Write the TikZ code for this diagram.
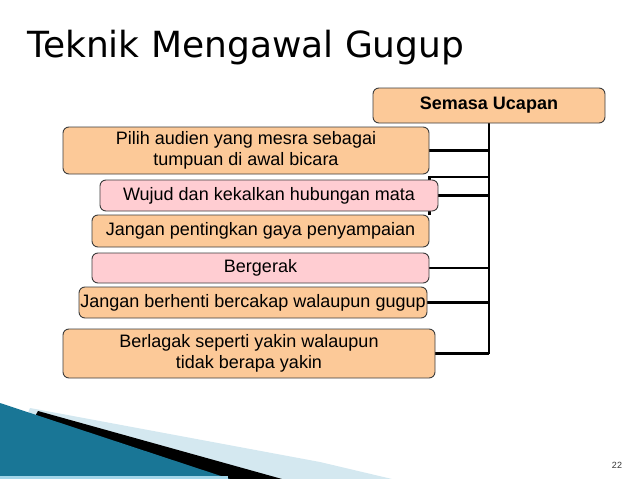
\documentclass[tikz,border=0pt]{standalone}
\usepackage{fontspec}
\setmainfont{Liberation Sans}
\newfontfamily\titlefont{DejaVu Sans}
\usetikzlibrary{calc, positioning}
\pgfdeclarelayer{bg}
\pgfsetlayers{bg,main}

\definecolor{peach}{RGB}{252,201,152}
\definecolor{rosy}{RGB}{255,205,210}
\definecolor{edgegray}{RGB}{60,60,60}
\definecolor{tealdark}{RGB}{25,118,150}
\definecolor{teallight}{RGB}{90,188,222}
\definecolor{palecyan}{RGB}{212,232,240}

\tikzset{
	kotak/.style={rectangle, rounded corners=6pt, draw=edgegray, line width=0.9pt, inner sep=0pt, align=center, font=\fontsize{18}{21}\selectfont},
	oren/.style={kotak, fill=peach},
	merah/.style={kotak, fill=rosy},
	sambung/.style={line width=2.2pt, black},
}

\begin{document}
\begin{tikzpicture}[x=1pt, y=-1pt]
	\useasboundingbox (0,0) rectangle (638,479);

		% title %
		\node[anchor=base west, inner sep=0pt, font=\titlefont\fontsize{36}{40}\selectfont] (tajuk) at (27,57) {Teknik Mengawal Gugup};

		% nodes %
		\node[oren, minimum width=232pt, minimum height=35pt, font=\bfseries\fontsize{18}{21}\selectfont] (ucapan) at (489,105.5) {Semasa Ucapan};
		\node[oren, minimum width=366pt, minimum height=47pt] (audien) at (246,150.5) {Pilih audien yang mesra sebagai\\tumpuan di awal bicara};
		\node[merah, minimum width=338pt, minimum height=31pt] (mata) at (269,195.5) {Wujud dan kekalkan hubungan mata};
		\node[oren, minimum width=337pt, minimum height=32pt] (gaya) at (260.5,231) {Jangan pentingkan gaya penyampaian};
		\node[merah, minimum width=337pt, minimum height=30pt] (gerak) at (260.5,268) {Bergerak};
		\node[oren, minimum width=348pt, minimum height=31pt] (henti) at (253,302.5) {Jangan berhenti bercakap walaupun gugup};
		\node[oren, minimum width=372pt, minimum height=49pt] (yakin) at (249,353.5) {Berlagak seperti yakin walaupun\\tidak berapa yakin};
		\coordinate (siku) at (489,177);

		% edges %
		\begin{pgfonlayer}{bg}
		\draw[sambung] (ucapan.south) -- (ucapan.south |- yakin.east);
		\draw[sambung] (audien.east) -- (audien.east -| ucapan.south);
		\draw[sambung] (mata.east) -- (mata.east -| ucapan.south);
		\draw[sambung] (gaya.north east) |- (siku);
		\draw[sambung] (gerak.east) -- (gerak.east -| ucapan.south);
		\draw[sambung] (henti.east) -- (henti.east -| ucapan.south);
		\draw[sambung] (yakin.east) -- (yakin.east -| ucapan.south);
		\end{pgfonlayer}

		% corner decoration %
		\fill[palecyan] (30,408) -- (320,462) -- (392,479) -- (0,479) -- cycle;
		\fill[black] (38,411) -- (282,479) -- (0,479) -- cycle;
		\shade[left color=tealdark, middle color=teallight, right color=tealdark] (0,403) -- (230,479) -- (0,479) -- cycle;
		\fill[palecyan!60!teallight] (0,476) rectangle (228,479);

		% page number %
		\node[font=\fontsize{9}{10}\selectfont, text=black!80] (halaman) at (617,465) {22};

		\end{tikzpicture}
\end{document}
